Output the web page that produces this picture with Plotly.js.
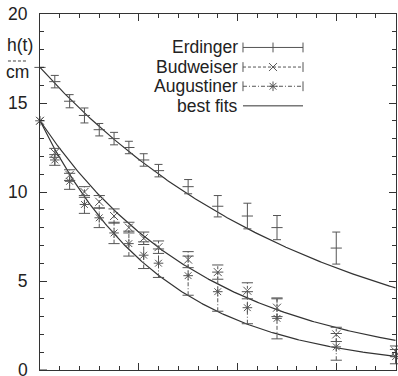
<!DOCTYPE html>
<html>
<head>
<meta charset="utf-8">
<script src="https://cdn.plot.ly/plotly-3.0.1.min.js"></script>
<style>html,body{margin:0;padding:0;background:#fff;}#chart{width:398px;height:376px;}</style>
</head>
<body>
<div id="chart"></div>
<script>
// ---- data (time in s, froth height in cm) ----
const seriesNames = ["Erdinger", "Budweiser", "Augustiner", "best fits"];
const erdingerTimes = [0, 15, 30, 45, 60, 75, 90, 105, 120, 150, 180, 210, 240, 300];
const erdingerHeights = [17.0, 16.2, 15.1, 14.3, 13.5, 13.0, 12.5, 11.8, 11.2, 10.3, 9.2, 8.65, 8.0, 6.85];
const erdingerErrors = [0, 0.35, 0.37, 0.42, 0.35, 0.35, 0.35, 0.35, 0.35, 0.4, 0.6, 0.72, 0.68, 0.9];
const beerTimes = [0, 15, 30, 45, 60, 75, 90, 105, 120, 150, 180, 210, 240, 300, 360];
const budweiserHeights = [14.0, 12.2, 10.95, 10.0, 9.45, 8.65, 8.0, 7.4, 6.9, 6.2, 5.5, 4.45, 3.5, 2.0, 1.05];
const budweiserErrors = [0, 0.25, 0.3, 0.3, 0.35, 0.4, 0.3, 0.35, 0.35, 0.45, 0.4, 0.45, 0.5, 0.4, 0.3];
const augustinerHeights = [14.0, 11.8, 10.6, 9.3, 8.55, 7.7, 7.1, 6.45, 6.0, 5.3, 4.4, 3.5, 2.9, 1.3, 0.75];
const augustinerErrors = [0, 0.3, 0.45, 0.5, 0.55, 0.6, 0.7, 0.75, 0.8, 1.1, 1.1, 0.9, 1.15, 0.75, 0.4];
// best-fit parameters h(t) = h0 * exp(-t / tau)
const fitH0 = [17.0, 14.0, 14.0];
const fitTau = [276, 169, 124];
const yTickVals = [5, 10, 15, 20];
const yTickText = ["5", "10", "15", "20"];
const yZeroLabel = "0";

const X_MAX = 360.5;
const INK = "#333";
const BAR = "#555";
const FONT = {family: "Liberation Sans, Arial, Helvetica, sans-serif", size: 17.5, color: "#222"};

function mk(symbol, size) {
  return {symbol: symbol, size: size, color: BAR, line: {color: BAR, width: 1}};
}

function barTrace(t, h, e, dash) {
  const x = [], y = [], cx = [], cy = [];
  for (let i = 0; i < t.length; i++) {
    if (e[i] <= 0) continue;
    x.push(t[i], t[i], null); y.push(h[i] - e[i], h[i] + e[i], null);
    cx.push(t[i], t[i]); cy.push(h[i] - e[i], h[i] + e[i]);
  }
  return [
    {x: x, y: y, mode: "lines", line: {color: BAR, width: 1, dash: dash}, hoverinfo: "skip", showlegend: false},
    {x: cx, y: cy, mode: "markers", marker: mk("line-ew-open", 8), hoverinfo: "skip", showlegend: false, cliponaxis: false}
  ];
}

const traces = [];
// fits
for (let k = 0; k < 3; k++) {
  const fx = [], fy = [];
  for (let t = 0; t <= X_MAX; t += 1.5) { fx.push(t); fy.push(fitH0[k] * Math.exp(-t / fitTau[k])); }
  traces.push({x: fx, y: fy, mode: "lines", line: {color: INK, width: 1.2}, hoverinfo: "skip", showlegend: false});
}
// Erdinger
traces.push({x: erdingerTimes, y: erdingerHeights, mode: "markers", name: seriesNames[0],
  marker: mk("line-ew-open", 8),
  error_y: {type: "data", array: erdingerErrors, width: 4, thickness: 1, color: BAR},
  showlegend: false, cliponaxis: false});
// Budweiser
traces.push(...barTrace(beerTimes, budweiserHeights, budweiserErrors, "3px,2px"));
traces.push({x: beerTimes, y: budweiserHeights, mode: "markers", name: seriesNames[1],
  marker: mk("x-thin-open", 8), showlegend: false, cliponaxis: false});
// Augustiner
traces.push(...barTrace(beerTimes, augustinerHeights, augustinerErrors, "4px,2px,1px,2px"));
traces.push({x: beerTimes, y: augustinerHeights, mode: "markers", name: seriesNames[2],
  marker: mk("asterisk-open", 8), showlegend: false, cliponaxis: false});

// ---- custom key (drawn on a hidden 0..1 overlay) ----
const keyX0 = 0.5702, keyX1 = 0.7388, keyXm = 0.6545, keyTextX = 0.5618;
const keyRows = [0.906, 0.851, 0.797, 0.742];
const keyDash = ["solid", "3px,2px", "4px,2px,1px,2px", "solid"];
const annotations = [];
for (let r = 0; r < 4; r++) {
  const yy = keyRows[r];
  traces.push({x: [keyX0, keyX1], y: [yy, yy], xaxis: "x2", yaxis: "y2", mode: "lines",
    line: {color: r === 3 ? INK : BAR, width: 1, dash: keyDash[r]}, hoverinfo: "skip", showlegend: false});
  if (r < 3) {
    const capsX = r === 0 ? [keyX0, keyXm, keyX1] : [keyX0, keyX1];
    traces.push({x: capsX, y: capsX.map(() => yy), xaxis: "x2", yaxis: "y2", mode: "markers",
      marker: mk("line-ns-open", 7), hoverinfo: "skip", showlegend: false});
    if (r > 0) {
      traces.push({x: [keyXm], y: [yy], xaxis: "x2", yaxis: "y2", mode: "markers",
        marker: mk(r === 1 ? "x-thin-open" : "asterisk-open", 8), hoverinfo: "skip", showlegend: false});
    }
  }
  annotations.push({xref: "paper", yref: "paper", x: keyTextX, y: yy, xanchor: "right", yanchor: "middle",
    text: seriesNames[r], showarrow: false, font: FONT});
}
// y-axis label h(t) / cm
annotations.push({xref: "paper", yref: "paper", x: -0.056, y: 0.914, text: "h(t)", showarrow: false, font: FONT, xanchor: "center", yanchor: "middle"});
annotations.push({xref: "paper", yref: "paper", x: -0.062, y: 0.836, text: "cm", showarrow: false, font: FONT, xanchor: "center", yanchor: "middle"});
// the "0" tick label at the bottom of the y axis
annotations.push({xref: "paper", yref: "y", x: -0.028, y: 0, text: yZeroLabel, showarrow: false, font: FONT, xanchor: "right", yanchor: "middle"});

const layout = {
  width: 398, height: 376,
  margin: {l: 40, r: 2, t: 14, b: 6, pad: 0},
  paper_bgcolor: "#fff", plot_bgcolor: "#fff",
  font: FONT,
  showlegend: false,
  xaxis: {range: [0, X_MAX], showgrid: false, zeroline: false, showline: true, linecolor: INK, linewidth: 1,
    mirror: "allticks", ticks: "inside", ticklen: 7, tickcolor: INK, dtick: 100, tick0: 0, showticklabels: false,
    minor: {dtick: 20, ticks: "inside", ticklen: 4, tickcolor: INK, showgrid: false}},
  yaxis: {range: [0, 20], showgrid: false, zeroline: false, showline: true, linecolor: INK, linewidth: 1,
    mirror: "allticks", ticks: "inside", ticklen: 7, tickcolor: INK, tickvals: yTickVals, ticktext: yTickText,
    ticklabelstandoff: 8, tickfont: FONT,
    minor: {tickvals: [1,2,3,4,6,7,8,9,11,12,13,14,16,17,18,19], ticks: "inside", ticklen: 4, tickcolor: INK, showgrid: false}},
  xaxis2: {overlaying: "x", range: [0, 1], visible: false, anchor: "y2"},
  yaxis2: {overlaying: "y", range: [0, 1], visible: false, anchor: "x2"},
  shapes: [
    {type: "line", xref: "paper", yref: "paper", x0: -0.09, x1: -0.034, y0: 0.868, y1: 0.868,
      line: {color: "#444", width: 1, dash: "3px,2px"}},
    {type: "line", xref: "paper", yref: "y", x0: 0, x1: 7 / 356, y0: 0, y1: 0, line: {color: INK, width: 1}}
  ],
  annotations: annotations
};
Plotly.newPlot("chart", traces, layout, {staticPlot: true, displayModeBar: false});
</script>
</body>
</html>
